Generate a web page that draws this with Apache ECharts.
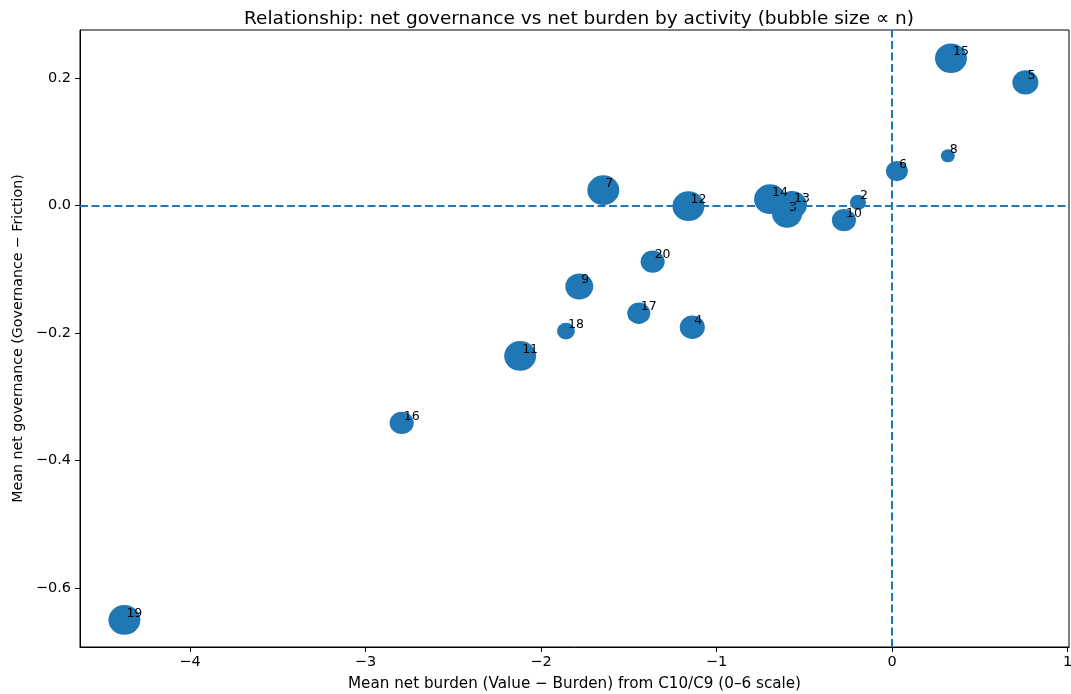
<!DOCTYPE html>
<html>
<head>
<meta charset="utf-8">
<script src="https://cdn.jsdelivr.net/npm/echarts@6/dist/echarts.min.js"></script>
<style>
html,body{margin:0;padding:0;background:#fff;}
#chart{width:1071px;height:694px;}
</style>
</head>
<body>
<div id="chart"></div>
<script>
// activity ids, mean net burden (x), mean net governance (y), n per activity
var activities=[2,3,4,5,6,7,8,9,10,11,12,13,14,15,16,17,18,19,20];
var netBurden=[-0.194,-0.598,-1.138,0.760,0.028,-1.645,0.318,-1.782,-0.274,-2.119,-1.160,-0.570,-0.695,0.336,-2.794,-1.443,-1.858,-4.374,-1.364];
var netGovernance=[0.005,-0.013,-0.191,0.193,0.054,0.024,0.078,-0.127,-0.023,-0.236,-0.001,0.001,0.010,0.231,-0.341,-0.169,-0.197,-0.650,-0.088];
var counts=[26,90,63,68,48,102,20,78,58,102,102,90,102,102,58,53,32,102,58];

var font='DejaVu Sans';
function minus(v){return String(v).replace('-','\u2212');}

var points=[];
for(var i=0;i<activities.length;i++){
    points.push([netBurden[i],netGovernance[i],counts[i],activities[i]]);
}

var chart=echarts.init(document.getElementById('chart'));
var option={
    animation:false,
    backgroundColor:'#fff',
    title:{
        text:'Relationship: net governance vs net burden by activity (bubble size \u221d n)',
        left:574,
        textAlign:'center',
        top:5,
        textStyle:{fontFamily:font,fontSize:18.5,fontWeight:'normal',color:'#000'}
    },
    grid:{
        left:80,right:2,top:30,bottom:47,
        outerBoundsMode:'none',
        show:true,borderColor:'#000',borderWidth:1,backgroundColor:'transparent'
    },
    xAxis:{
        type:'value',
        min:-4.627,max:1.0085,
        name:'Mean net burden (Value \u2212 Burden) from C10/C9 (0\u20136 scale)',
        nameLocation:'middle',nameGap:30,
        nameTextStyle:{fontFamily:font,fontSize:15.2,color:'#000'},
        axisLine:{show:true,onZero:false,lineStyle:{color:'#000',width:1}},
        axisTick:{show:true,length:5,lineStyle:{color:'#000'}},
        axisLabel:{
            fontFamily:font,fontSize:14.5,color:'#000',margin:8,
            showMinLabel:false,showMaxLabel:false,
            formatter:function(v){return Math.abs(v-Math.round(v))<1e-6?minus(Math.round(v)):'';}
        },
        splitLine:{show:false}
    },
    yAxis:{
        type:'value',
        min:-0.6925,max:0.2753,
        name:'Mean net governance (Governance \u2212 Friction)',
        nameLocation:'middle',nameGap:55,
        nameTextStyle:{fontFamily:font,fontSize:14.2,color:'#000'},
        axisLine:{show:true,onZero:false,lineStyle:{color:'#000',width:1}},
        axisTick:{show:true,length:5,lineStyle:{color:'#000'}},
        axisLabel:{
            fontFamily:font,fontSize:14.5,color:'#000',margin:9,
            showMinLabel:false,showMaxLabel:false,
            formatter:function(v){
                var k=Math.round(v*5);
                if(Math.abs(v*5-k)>1e-6)return '';
                return minus((k/5).toFixed(1));
            }
        },
        splitLine:{show:false}
    },
    series:[
        {
            type:'scatter',
            data:[],
            z:1,
            silent:true,
            markLine:{
                silent:true,
                symbol:['none','none'],
                label:{show:false},
                lineStyle:{color:'#1f77b4',type:[8,3.5],width:2},
                data:[{xAxis:0},{yAxis:0}]
            }
        },
        {
            type:'scatter',
            z:3,
            data:points,
            symbolSize:function(d){
                var s=Math.sqrt(d[2]*10);
                return [s,s*0.93];
            },
            itemStyle:{color:'#1f77b4',opacity:1},
            label:{
                show:true,
                position:['50%','50%'],
                align:'left',
                verticalAlign:'bottom',
                offset:[2,0],
                fontFamily:font,fontSize:12.5,color:'#000',
                formatter:function(p){return String(p.data[3]);}
            }
        }
    ]
};
chart.setOption(option);
</script>
</body>
</html>
